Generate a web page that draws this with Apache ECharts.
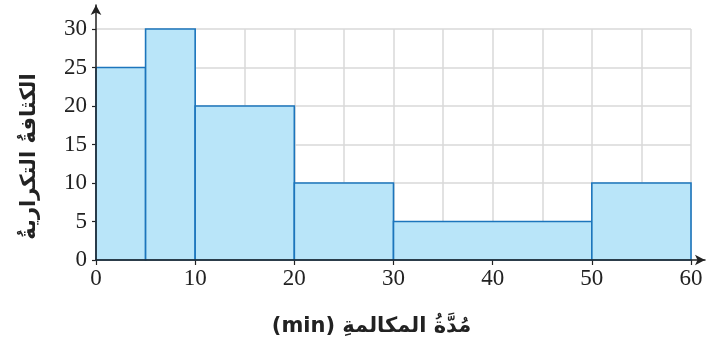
<!DOCTYPE html>
<html>
<head>
<meta charset="utf-8">
<script src="https://cdn.jsdelivr.net/npm/echarts@6/dist/echarts.min.js"></script>
<style>html,body{margin:0;padding:0;background:#fff}#c{width:710px;height:350px}</style>
</head>
<body>
<div id="c"></div>
<script>
const binStarts = [0, 5, 10, 20, 30, 50];
const binEnds = [5, 10, 20, 30, 50, 60];
const densities = [25, 30, 20, 10, 5, 10];
const xTickLabels = [0, 10, 20, 30, 40, 50, 60];
const yTickLabels = [0, 5, 10, 15, 20, 25, 30];
const xTitle = 'مُدَّةُ المكالمةِ (min)';
const yTitle = 'الكثافةُ التكراريةُ';

const data = binStarts.map((s, i) => [s, binEnds[i], densities[i]]);
const chart = echarts.init(document.getElementById('c'));
const labelFont = {fontFamily: 'Liberation Serif', fontSize: 23, color: '#222'};
const titleFont = {fontFamily: 'DejaVu Sans', fontWeight: 'bold', fontSize: 21, color: '#222'};
chart.setOption({
  animation: false,
  grid: [
    {left: 96, right: 19, top: 29, bottom: 90},
    {left: 96, right: 5, top: 5, bottom: 90}
  ],
  xAxis: [
    {
      type: 'value', gridIndex: 0, min: 0, max: 60, interval: 10,
      name: '\u202B' + xTitle + '\u202C', nameLocation: 'middle', nameGap: 56,
      nameTextStyle: Object.assign({padding: [0, 44, 0, 0]}, titleFont),
      axisLine: {show: false},
      axisTick: {show: true, length: 5, lineStyle: {color: '#222', width: 1.2}},
      axisLabel: Object.assign({margin: 7, formatter: v => xTickLabels.includes(v) ? String(v) : ''}, labelFont),
      splitLine: {show: true, lineStyle: {color: '#d9d9d9', width: 1.5}},
      minorTick: {show: false, splitNumber: 2},
      minorSplitLine: {show: true, lineStyle: {color: '#d9d9d9', width: 1.5}}
    },
    {
      type: 'value', gridIndex: 1, min: 0, max: 1, z: 10,
      axisLine: {show: true, symbol: ['none', 'arrow'], symbolSize: [8, 10], lineStyle: {color: '#222', width: 1.5}},
      axisTick: {show: false}, axisLabel: {show: false}, splitLine: {show: false}
    }
  ],
  yAxis: [
    {
      type: 'value', gridIndex: 0, min: 0, max: 30, interval: 5,
      name: yTitle, nameLocation: 'middle', nameGap: 56, nameRotate: 90,
      nameTextStyle: Object.assign({padding: [0, 24, 0, 0]}, titleFont),
      axisLine: {show: false},
      axisTick: {show: true, length: 4, lineStyle: {color: '#222', width: 1.2}},
      axisLabel: Object.assign({margin: 9, formatter: v => yTickLabels.includes(v) ? String(v) : ''}, labelFont),
      splitLine: {show: true, lineStyle: {color: '#d9d9d9', width: 1.5}}
    },
    {
      type: 'value', gridIndex: 1, min: 0, max: 1, z: 10,
      axisLine: {show: true, symbol: ['none', 'arrow'], symbolSize: [8, 10], lineStyle: {color: '#222', width: 1.5}},
      axisTick: {show: false}, axisLabel: {show: false}, splitLine: {show: false}
    }
  ],
  series: [{
    type: 'custom',
    xAxisIndex: 0, yAxisIndex: 0,
    encode: {x: [0, 1], y: 2},
    data: data,
    renderItem: function (params, api) {
      const p0 = api.coord([api.value(0), api.value(2)]);
      const p1 = api.coord([api.value(1), 0]);
      return {
        type: 'rect',
        shape: {x: p0[0], y: p0[1], width: p1[0] - p0[0], height: p1[1] - p0[1]},
        style: {fill: '#b9e5f9', stroke: '#1c75bc', lineWidth: 1.6}
      };
    }
  }]
});
</script>
</body>
</html>
